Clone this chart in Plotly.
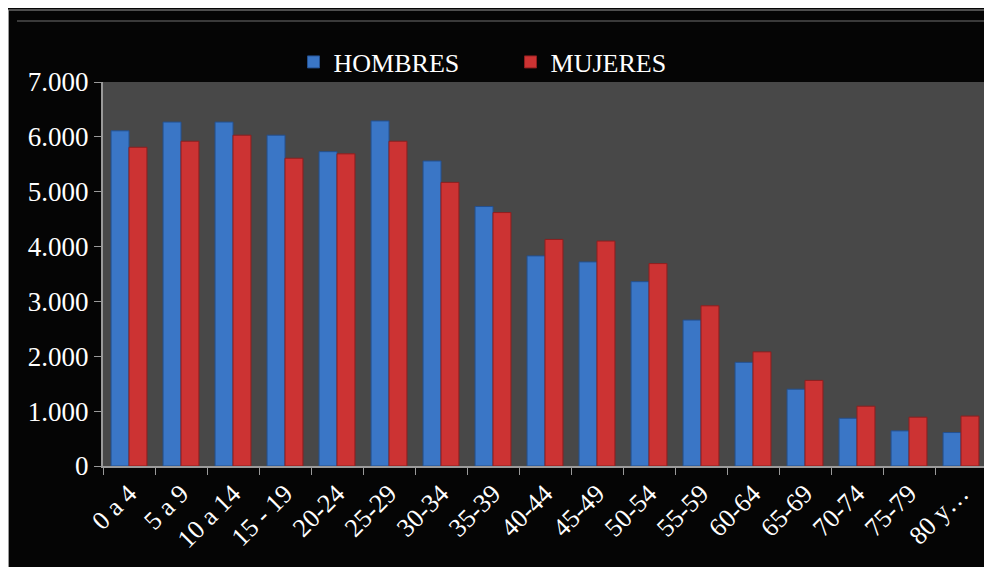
import plotly.graph_objects as go

categories = ["0 a 4", "5 a 9", "10 a 14", "15 - 19", "20-24", "25-29", "30-34", "35-39",
              "40-44", "45-49", "50-54", "55-59", "60-64", "65-69", "70-74", "75-79", "80 y…"]
hombres = [6110, 6270, 6270, 6030, 5730, 6290, 5560, 4730, 3830, 3720, 3360, 2660, 1890, 1400, 870, 640, 610]
mujeres = [5810, 5920, 6030, 5610, 5690, 5920, 5170, 4620, 4130, 4100, 3690, 2920, 2080, 1560, 1090, 890, 910]
y_ticks = [0, 1000, 2000, 3000, 4000, 5000, 6000, 7000]

FONT = "Liberation Serif, Times New Roman, serif"

# plot area in figure pixels: x 95..979, y 74..458
PL, PR, PT, PB = 95, 979, 74, 458
PW, PH = PR - PL, PB - PT


def px(x):
    return (x - PL) / PW


def py(y):
    return (PB - y) / PH


fig = go.Figure()
fig.add_trace(go.Bar(name="HOMBRES", x=categories, y=hombres,
                     marker=dict(color="#3a76c6", line=dict(color="#24508f", width=1))))
fig.add_trace(go.Bar(name="MUJERES", x=categories, y=mujeres,
                     marker=dict(color="#cc3333", line=dict(color="#8e1f1f", width=1))))

fig.update_layout(
    width=992, height=567,
    margin=dict(l=PL, r=992 - PR, t=PT, b=567 - PB),
    paper_bgcolor="#050505",
    plot_bgcolor="#484848",
    separators=",.",
    barmode="group",
    bargap=0.31,
    bargroupgap=0,
    font=dict(family=FONT, size=26, color="white"),
    legend=dict(orientation="h", x=0.461, y=py(54), xanchor="center", yanchor="middle",
                font=dict(family=FONT, size=26, color="white"),
                bgcolor="rgba(0,0,0,0)", entrywidth=172),
    showlegend=True,
    shapes=[
        dict(type="line", xref="paper", yref="paper", x0=px(0), x1=px(1000),
             y0=py(2), y1=py(2), line=dict(color="#9a9a9a", width=1)),
        dict(type="line", xref="paper", yref="paper", x0=px(0.5), x1=px(0.5),
             y0=py(600), y1=py(2), line=dict(color="#9a9a9a", width=1)),
        dict(type="line", xref="paper", yref="paper", x0=px(9), x1=px(1000),
             y0=py(13), y1=py(13), line=dict(color="#3a3a3a", width=2)),
        dict(type="line", xref="paper", yref="paper", x0=1, x1=1,
             y0=0, y1=1, line=dict(color="#2e2e2e", width=3)),
    ],
)

fig.update_xaxes(
    type="category", tickangle=-45, tickson="boundaries", ticks="outside", ticklen=7,
    tickcolor="#9a9a9a", showline=True, linecolor="#9a9a9a", linewidth=2,
    showgrid=False, tickfont=dict(family=FONT, size=26, color="white"),
)
fig.update_yaxes(
    range=[0, 7000], tickvals=y_ticks, tickformat=",d", ticks="outside", ticklen=7,
    tickcolor="#9a9a9a", showline=True, linecolor="#9a9a9a", linewidth=2,
    showgrid=False, zeroline=False, tickfont=dict(family=FONT, size=27, color="white"),
)

fig.write_html("out.html")
